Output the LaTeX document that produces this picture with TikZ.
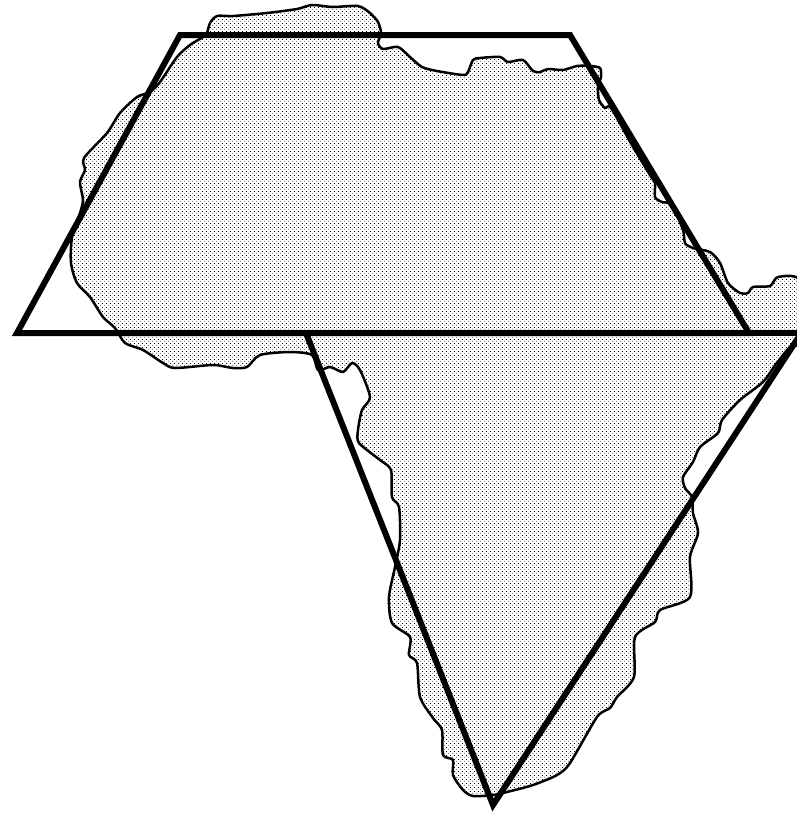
\documentclass[tikz,border=0pt]{standalone}
\usetikzlibrary{patterns}
\pgfdeclarepatternformonly{stipple}{\pgfpointorigin}{\pgfqpoint{4pt}{4pt}}{\pgfqpoint{4pt}{4pt}}{
  \pgfpathrectangle{\pgfqpoint{0.5pt}{0.5pt}}{\pgfqpoint{1.05pt}{1.05pt}}
  \pgfpathrectangle{\pgfqpoint{2.5pt}{2.5pt}}{\pgfqpoint{1.05pt}{1.05pt}}
  \pgfusepath{fill}}
\begin{document}
\begin{tikzpicture}[x=1pt,y=-1pt,
    land/.style={draw,line width=2.5pt,pattern=stipple,line join=round},
    frame/.style={draw,line width=6pt,line join=miter}]
  \useasboundingbox (0,0) rectangle (797,814);
  \draw[land] plot[smooth cycle,tension=0.45] coordinates {
    (207,33) (210,23) (217,16) (233,16) (267,13) (297,9) (312,5) (333,7) (358,6)
    (370,13) (378,22) (381,33) (378,43) (383,49) (398,47) (410,57) (422,67)
    (437,71) (463,75) (468,72) (473,60) (480,58) (500,57) (508,62) (523,60)
    (533,71) (540,72) (548,69) (563,70) (577,66) (590,66) (600,68) (601,77)
    (598,87) (599,100) (605,108) (611,108) (632,145) (650,175) (655,183)
    (655,197) (662,202) (672,205) (683,230) (685,243) (693,248) (710,252)
    (720,263) (728,283) (740,293) (748,293) (753,287) (770,286) (778,277)
    (800,281) (802,340) (790,347) (776,364) (763,382) (740,400) (722,420)
    (718,433) (700,447) (693,462) (683,477) (685,488) (692,497) (693,513)
    (698,533) (690,557) (690,597) (660,610) (655,622) (635,637) (634,677)
    (617,697) (610,708) (597,717) (570,763) (557,775) (533,785) (507,792)
    (493,795) (473,796) (463,790) (453,775) (453,760) (443,755) (442,730)
    (433,718) (420,697) (417,663) (409,655) (410,637) (392,623) (389,597)
    (395,567) (400,540) (399,507) (392,497) (391,470) (380,460) (359,443)
    (358,430) (362,410) (370,397) (360,370) (352,363) (343,372) (330,367)
    (318,370) (312,355) (290,352) (260,355) (247,367) (233,368) (213,365)
    (175,368) (163,363) (143,350) (125,343) (115,328) (103,317) (90,297)
    (77,283) (71,263) (72,237) (80,213) (83,200) (80,182) (85,170) (84,158)
    (107,133) (120,113) (137,97) (150,92) (160,82) (177,57) (190,45) (203,37)};
  \draw[frame] (180,35) -- (570,35) -- (749,333) -- (17,333) -- cycle;
  \draw[frame] (749,333) -- (797,333);
  \draw[frame] (306,333) -- (493,805) -- (800,335);
\end{tikzpicture}
\end{document}
